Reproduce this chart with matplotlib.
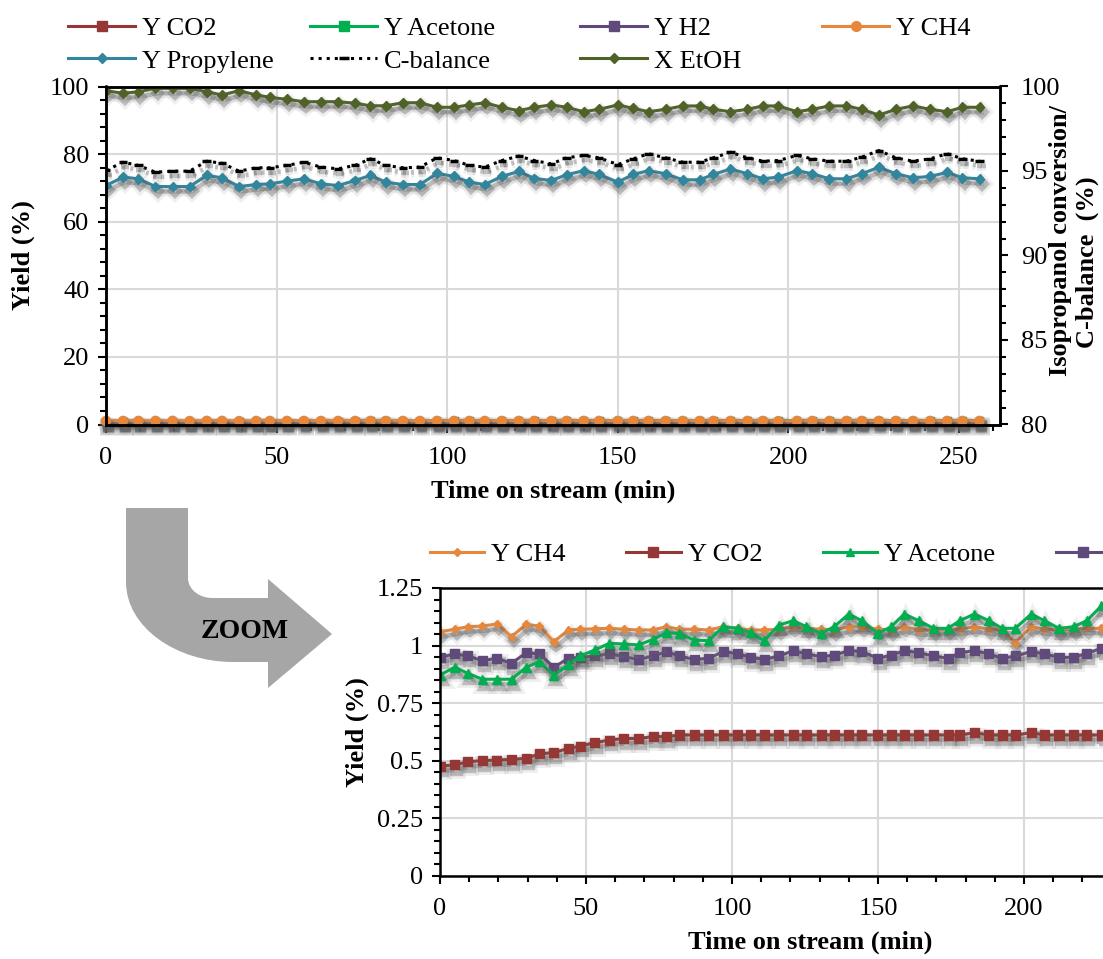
import matplotlib
matplotlib.use("Agg")
import matplotlib.pyplot as plt
import matplotlib.patheffects as pe
from matplotlib.ticker import MultipleLocator, FuncFormatter
from matplotlib.lines import Line2D
from matplotlib.path import Path
from matplotlib.patches import PathPatch

plt.rcParams['font.family'] = ['Liberation Serif', 'DejaVu Serif']

W, H = 1103, 959

# time on stream (min)
t = [0, 5, 9.5, 14.5, 19.5, 24.5, 29.5, 34, 39, 44, 48, 53, 58, 63, 68, 73, 77.5, 82,
     87, 92, 97, 102, 106.5, 111, 116, 121, 125.5, 130.5, 135, 140, 144.5, 150, 154.5,
     159, 164, 169, 174, 178, 183, 188, 192.5, 197, 202.5, 207, 212, 217, 221.5, 226.5,
     231.5, 236.5, 241.5, 246.5, 251, 256]

x_etoh = [99.75, 99.60, 99.69, 99.89, 99.89, 99.89, 99.69, 99.50, 99.75, 99.50, 99.36,
          99.24, 99.10, 99.10, 99.10, 99.01, 98.86, 98.86, 99.04, 99.04, 98.77, 98.77,
          98.91, 99.04, 98.77, 98.57, 98.77, 98.91, 98.77, 98.51, 98.65, 98.91, 98.71,
          98.51, 98.65, 98.85, 98.85, 98.65, 98.51, 98.65, 98.85, 98.85, 98.51, 98.65,
          98.85, 98.85, 98.65, 98.31, 98.65, 98.85, 98.65, 98.51, 98.77, 98.77]

y_propylene = [70.7, 73.2, 72.7, 70.4, 70.4, 70.4, 73.7, 73.0, 70.4, 71.0, 71.2, 72.0,
               72.7, 71.2, 70.7, 72.2, 73.7, 71.7, 71.0, 71.0, 74.3, 73.4, 71.7, 71.0,
               73.4, 74.9, 72.8, 72.2, 73.9, 75.1, 74.0, 71.7, 74.0, 75.1, 74.2, 72.4,
               72.4, 74.0, 75.6, 74.2, 72.7, 73.2, 75.1, 74.2, 72.7, 72.7, 74.2, 76.1,
               74.2, 73.0, 73.4, 74.6, 73.0, 72.7]

c_balance = [95.03, 95.52, 95.33, 94.93, 94.99, 94.99, 95.58, 95.46, 94.99, 95.19, 95.19,
             95.33, 95.52, 95.23, 95.13, 95.33, 95.72, 95.33, 95.19, 95.23, 95.78, 95.62,
             95.33, 95.23, 95.62, 95.88, 95.62, 95.42, 95.78, 95.92, 95.78, 95.38, 95.72,
             96.02, 95.78, 95.52, 95.52, 95.78, 96.11, 95.78, 95.58, 95.62, 95.92, 95.72,
             95.58, 95.58, 95.82, 96.21, 95.78, 95.58, 95.72, 96.02, 95.72, 95.58]

y_ch4 = [1.060, 1.071, 1.082, 1.085, 1.094, 1.039, 1.092, 1.085, 1.017, 1.068, 1.071,
         1.073, 1.075, 1.071, 1.068, 1.068, 1.082, 1.071, 1.071, 1.068, 1.082, 1.075,
         1.068, 1.068, 1.071, 1.082, 1.075, 1.071, 1.068, 1.082, 1.082, 1.071, 1.068,
         1.082, 1.068, 1.068, 1.071, 1.071, 1.082, 1.071, 1.068, 1.013, 1.082, 1.071,
         1.068, 1.071, 1.075, 1.075, 1.071, 1.068, 1.075, 1.071, 1.068, 1.071]

y_acetone = [0.872, 0.906, 0.880, 0.854, 0.854, 0.854, 0.906, 0.930, 0.872, 0.916, 0.955,
             0.981, 1.010, 1.007, 1.003, 1.027, 1.056, 1.053, 1.024, 1.021, 1.082, 1.075,
             1.056, 1.021, 1.089, 1.108, 1.082, 1.053, 1.082, 1.137, 1.108, 1.053, 1.082,
             1.137, 1.108, 1.075, 1.075, 1.108, 1.137, 1.108, 1.075, 1.075, 1.137, 1.108,
             1.075, 1.082, 1.108, 1.172, 1.137, 1.108, 1.082, 1.108, 1.137, 1.108]

y_h2 = [0.949, 0.964, 0.955, 0.935, 0.945, 0.923, 0.969, 0.964, 0.906, 0.945, 0.949,
        0.955, 0.964, 0.952, 0.940, 0.955, 0.974, 0.955, 0.940, 0.945, 0.974, 0.964,
        0.949, 0.940, 0.955, 0.978, 0.964, 0.952, 0.959, 0.978, 0.974, 0.945, 0.959,
        0.978, 0.969, 0.955, 0.945, 0.969, 0.978, 0.964, 0.945, 0.955, 0.974, 0.964,
        0.949, 0.949, 0.967, 0.988, 0.974, 0.959, 0.949, 0.964, 0.978, 0.959]

y_co2 = [0.477, 0.482, 0.496, 0.501, 0.503, 0.506, 0.511, 0.530, 0.536, 0.554, 0.564,
         0.579, 0.590, 0.597, 0.597, 0.605, 0.605, 0.612, 0.612, 0.612, 0.612, 0.612,
         0.612, 0.612, 0.612, 0.612, 0.612, 0.612, 0.612, 0.612, 0.612, 0.612, 0.612,
         0.612, 0.612, 0.612, 0.612, 0.612, 0.622, 0.612, 0.612, 0.612, 0.622, 0.612,
         0.612, 0.612, 0.612, 0.612, 0.612, 0.612, 0.617, 0.612, 0.612, 0.612]

c_co2 = '#953735'
c_acet = '#00B050'
c_h2 = '#604A7B'
c_ch4 = '#E5873D'
c_prop = '#31859C'
c_etoh = '#4F6228'
c_grid = '#D9D9D9'

FS = 19


def shade(lw):
    return [pe.SimpleLineShadow(offset=(1.5, -3.5), shadow_color='0.5', alpha=0.12, linewidth=lw + 5),
            pe.SimpleLineShadow(offset=(1.5, -3.5), shadow_color='0.3', alpha=0.3, linewidth=lw + 1),
            pe.Normal()]


def serie(ax, y, color, marker, ms, lw=2.2, legms=None, **kw):
    ax.plot(t, y, color=color, marker=marker, ms=ms, lw=lw, mec=color, mfc=color,
            path_effects=shade(lw), **kw)
    return Line2D([], [], color=color, marker=marker, ms=legms or ms + 1.5, lw=lw, mec=color,
                  mfc=color, ls=kw.get('ls', '-'), mew=kw.get('mew', 1))


def style(ax):
    for s in ax.spines.values():
        s.set_linewidth(1.8)
    ax.tick_params(which='major', direction='out', length=6, width=1.5, labelsize=FS, pad=6)
    ax.tick_params(which='minor', direction='out', length=4, width=1.5)
    ax.tick_params(axis='x', pad=10)


fig = plt.figure(figsize=(W / 100, H / 100), dpi=100)

# curved ZOOM arrow
ov = fig.add_axes([0, 0, 1, 1], zorder=-1)
ov.set_xlim(0, W)
ov.set_ylim(H, 0)
ov.axis('off')
verts = [(126, 508), (126, 582), (126, 627), (176, 662), (233, 662), (268, 662), (268, 688),
         (332, 634), (268, 579), (268, 598), (212, 598), (200, 598), (188, 590), (188, 578),
         (188, 508), (126, 508)]
codes = [Path.MOVETO, Path.LINETO, Path.CURVE4, Path.CURVE4, Path.CURVE4, Path.LINETO,
         Path.LINETO, Path.LINETO, Path.LINETO, Path.LINETO, Path.LINETO, Path.CURVE4,
         Path.CURVE4, Path.CURVE4, Path.LINETO, Path.CLOSEPOLY]
ov.add_patch(PathPatch(Path(verts, codes), facecolor='#A6A6A6', edgecolor='none'))
ov.text(245, 631, 'ZOOM', ha='center', va='center', fontsize=20, fontweight='bold')

# ---- top chart ----
ax = fig.add_axes([106 / W, 1 - 424.5 / H, 894 / W, 338 / H])
ax.set_axisbelow(True)
ax.grid(True, which='major', color=c_grid, lw=1.5)
h_co2 = serie(ax, y_co2, c_co2, 's', 5, clip_on=False)
h_acet = serie(ax, y_acetone, c_acet, 's', 5, clip_on=False)
h_h2 = serie(ax, y_h2, c_h2, 's', 5, clip_on=False)
h_ch4 = serie(ax, y_ch4, c_ch4, 'o', 6.5, legms=7, clip_on=False)
h_prop = serie(ax, y_propylene, c_prop, 'D', 5, legms=5)
ax.set_xlim(0, 262)
ax.set_ylim(0, 100)
ax.xaxis.set_major_locator(MultipleLocator(50))
ax.xaxis.set_minor_locator(MultipleLocator(10))
ax.yaxis.set_major_locator(MultipleLocator(20))
ax.yaxis.set_minor_locator(MultipleLocator(4))
style(ax)
ax.set_xlabel('Time on stream (min)', fontsize=FS, fontweight='bold')
ax.xaxis.set_label_coords(0.5, -0.163)
ax.set_ylabel('Yield (%)', fontsize=FS, fontweight='bold')
ax.yaxis.set_label_coords(-0.079, 0.5)

ax2 = ax.twinx()
h_cb = serie(ax2, c_balance, 'k', '_', 6, legms=7, ls=':', mew=2.5)
h_etoh = serie(ax2, x_etoh, c_etoh, 'D', 5, legms=5)
ax2.set_ylim(80, 100)
ax2.yaxis.set_major_locator(MultipleLocator(5))
ax2.yaxis.set_minor_locator(MultipleLocator(1))
style(ax2)
ax2.tick_params(axis='y', pad=9)
fig.text(1061 / W, 1 - 241 / H, 'Isopropanol conversion/', rotation=90, ha='center',
         va='center', fontsize=FS, fontweight='bold')
fig.text(1087 / W, 1 - 262 / H, 'C-balance  (%)', rotation=90, ha='center',
         va='center', fontsize=FS, fontweight='bold')


def leg_col(handles, labels, x, y):
    fig.legend(handles, labels, loc='upper left', bbox_to_anchor=(x / W, 1 - y / H),
               frameon=False, borderpad=0, borderaxespad=0, handlelength=2.54,
               handletextpad=0.27, labelspacing=0.33, fontsize=FS)


leg_col([h_co2, h_prop], ['Y CO2', 'Y Propylene'], 68, 17)
leg_col([h_acet, h_cb], ['Y Acetone', 'C-balance'], 310, 17)
leg_col([h_h2, h_etoh], ['Y H2', 'X EtOH'], 580, 17)
leg_col([h_ch4], ['Y CH4'], 822, 17)

# ---- zoomed chart ----
bx = fig.add_axes([440 / W, 1 - 876 / H, 765 / W, 288 / H])
bx.set_axisbelow(True)
bx.grid(True, which='major', color=c_grid, lw=1.5)
g_co2 = serie(bx, y_co2, c_co2, 's', 6.5, legms=7)
g_h2 = serie(bx, y_h2, c_h2, 's', 6.5, legms=7)
g_ch4 = serie(bx, y_ch4, c_ch4, 'D', 4, legms=4.5)
g_acet = serie(bx, y_acetone, c_acet, '^', 6.5, legms=6)
bx.set_xlim(0, 262)
bx.set_ylim(0, 1.25)
bx.xaxis.set_major_locator(MultipleLocator(50))
bx.xaxis.set_minor_locator(MultipleLocator(10))
bx.yaxis.set_major_locator(MultipleLocator(0.25))
bx.yaxis.set_minor_locator(MultipleLocator(0.05))
bx.yaxis.set_major_formatter(FuncFormatter(lambda v, p: '%g' % v))
style(bx)
bx.set_xlabel('Time on stream (min)', fontsize=FS, fontweight='bold')
bx.xaxis.set_label_coords(0.4837, -0.19)
bx.set_ylabel('Yield (%)', fontsize=FS, fontweight='bold')
bx.yaxis.set_label_coords(-0.093, 0.5)
fig.legend([g_ch4, g_co2, g_acet, g_h2], ['Y CH4', 'Y CO2', 'Y Acetone', 'Y H2'],
           loc='upper left', bbox_to_anchor=(430 / W, 1 - 543 / H), ncol=4, frameon=False,
           borderpad=0, borderaxespad=0, handlelength=2.05, handletextpad=0.27,
           columnspacing=2.3, fontsize=FS)

fig.savefig('out.png', dpi=100)
